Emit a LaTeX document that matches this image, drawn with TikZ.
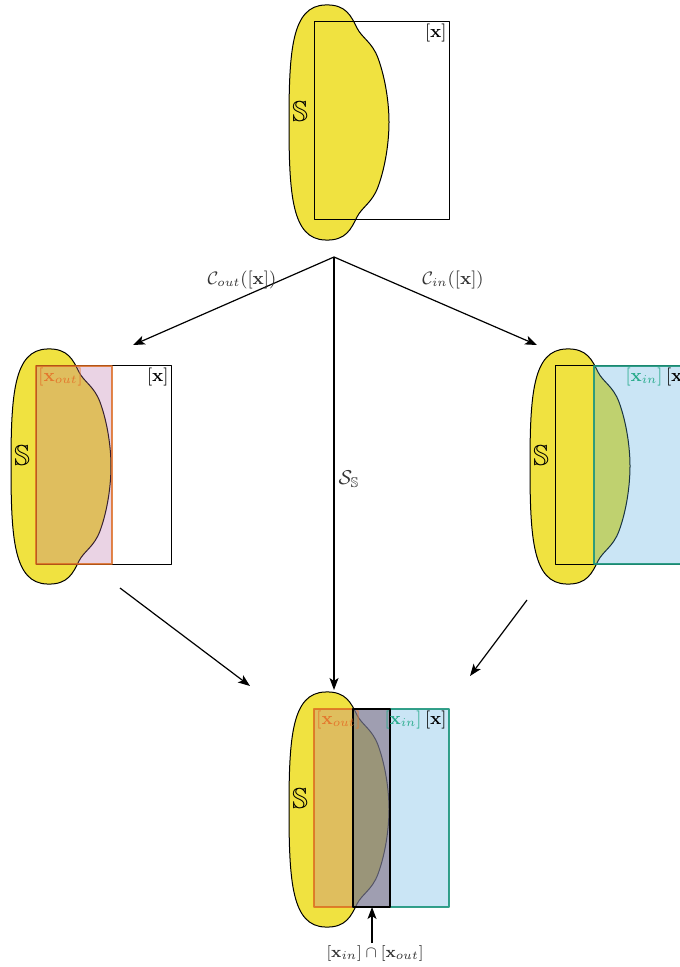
\documentclass[tikz,border=0pt]{standalone}
\usepackage{amsmath,amssymb}
\usetikzlibrary{arrows.meta}
\definecolor{blobY}{RGB}{240,226,64}
\definecolor{outfill}{RGB}{185,110,165}
\definecolor{outline}{RGB}{220,105,30}
\definecolor{outtext}{RGB}{228,120,45}
\definecolor{infill}{RGB}{80,170,222}
\definecolor{inline}{RGB}{30,150,125}
\definecolor{intext}{RGB}{40,170,140}
\definecolor{capfill}{RGB}{118,100,105}
\newcommand{\blobpath}{(-25,100) .. controls (-25,28) and (-22,-16) .. (11,-17) .. controls (32,-18) and (37,-6) .. (43,6) .. controls (48,16) and (58,20) .. (64,36) .. controls (72,58) and (75,83) .. (75,100) .. controls (75,118) and (72,143) .. (64,165) .. controls (58,181) and (48,185) .. (43,195) .. controls (37,207) and (32,219) .. (11,218) .. controls (-22,217) and (-25,173) .. (-25,100) -- cycle}
\tikzset{
  blob/.style={fill=blobY, draw=black, line width=0.5pt},
  boxline/.style={draw=black, line width=0.5pt},
  outbox/.style={fill=outfill, fill opacity=0.3, draw=outline, draw opacity=0.8, line width=0.6pt},
  inbox/.style={fill=infill, fill opacity=0.3, draw=inline, draw opacity=0.9, line width=0.6pt},
  capbox/.style={fill=capfill, fill opacity=0.4, draw=black, line width=0.6pt},
  lbl/.style={inner sep=1pt, font=\small},
  slbl/.style={inner sep=0pt, font=\Large},
  arr/.style={-{Stealth[length=6pt,width=4.5pt,inset=1.5pt]}, line width=0.6pt},
  arrlbl/.style={inner sep=1pt, text=black!80, font=\small}
}
\begin{document}
\begin{tikzpicture}[x=0.5pt,y=-0.5pt, line join=round]
\useasboundingbox (0,0) rectangle (679,967);
% top group
\begin{scope}[shift={(314,22)}]
  \path[blob] \blobpath;
  \draw[boxline] (0,0) rectangle (135,198);
  \node[lbl, anchor=north east] (xT) at (135,0) {$[\mathbf{x}]$};
  \node[slbl] (sT) at (-14,90) {$\mathbb{S}$};
\end{scope}
% left group
\begin{scope}[shift={(36,366)}]
  \path[blob] \blobpath;
  \draw[boxline] (0,0) rectangle (135,198);
  \path[outbox] (0,0) rectangle (76,198);
  \node[lbl, anchor=north east] (xL) at (135,0) {$[\mathbf{x}]$};
  \node[lbl, anchor=north west, text=outtext] (xoL) at (0,0) {$[\mathbf{x}_{out}]$};
  \node[slbl] (sL) at (-14,90) {$\mathbb{S}$};
\end{scope}
% right group
\begin{scope}[shift={(555,366)}]
  \path[blob] \blobpath;
  \draw[boxline] (0,0) rectangle (135,198);
  \path[inbox] (39,0) rectangle (135,198);
  \node[lbl, anchor=north east] (xR) at (135,0) {$[\mathbf{x}]$};
  \node[lbl, anchor=north east, text=intext] (xiR) at (110,0) {$[\mathbf{x}_{in}]$};
  \node[slbl] (sR) at (-14,90) {$\mathbb{S}$};
\end{scope}
% bottom group
\begin{scope}[shift={(314,709)}]
  \path[blob] \blobpath;
  \path[outbox] (0,0) rectangle (76,198);
  \path[inbox] (39,0) rectangle (135,198);
  \path[capbox] (39,0) rectangle (76,198);
  \coordinate (capB) at (58,198);
  \node[lbl, anchor=north east] (xB) at (135,0) {$[\mathbf{x}]$};
  \node[lbl, anchor=north east, text=intext] (xiB) at (110,0) {$[\mathbf{x}_{in}]$};
  \node[lbl, anchor=north west, text=outtext] (xoB) at (0,0) {$[\mathbf{x}_{out}]$};
  \node[slbl] (sB) at (-14,90) {$\mathbb{S}$};
\end{scope}
% connectors
\coordinate (apex) at (334,257);
\coordinate (tipL) at (133,345);
\coordinate (tipR) at (537,345);
\coordinate (tipB) at (334,690);
\coordinate (fromL) at (120,588);
\coordinate (toL) at (250,686);
\coordinate (fromR) at (527,600);
\coordinate (toR) at (470,676);
\draw[arr] (apex) -- (tipL);
\draw[arr] (apex) -- (tipR);
\draw[arr] (apex) -- (tipB);
\draw[arr] (fromL) -- (toL);
\draw[arr] (fromR) -- (toR);
\node[arrlbl] (cout) at (242,280) {$\mathcal{C}_{out}([\mathbf{x}])$};
\node[arrlbl] (cin) at (453,280) {$\mathcal{C}_{in}([\mathbf{x}])$};
\node[arrlbl, font=\normalsize] (ss) at (349,479) {$\mathcal{S}_{\mathbb{S}}$};
\node[arrlbl, anchor=north, font=\footnotesize] (caplbl) at (375,943) {$[\mathbf{x}_{in}]\cap[\mathbf{x}_{out}]$};
\coordinate (capfrom) at (caplbl.north -| capB);
\draw[arr] (capfrom) -- (capB);
\end{tikzpicture}
\end{document}
